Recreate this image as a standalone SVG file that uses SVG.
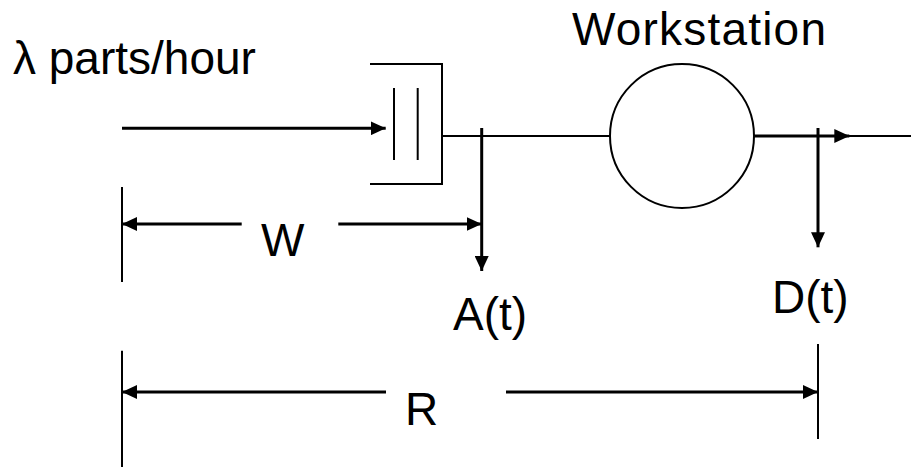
<svg xmlns="http://www.w3.org/2000/svg" width="911" height="470" viewBox="0 0 911 470">
<style>
.t{font-family:"Liberation Sans",Arial,sans-serif;font-size:46px;fill:#000}
.s2{stroke:#000;stroke-width:2;fill:none}
.s3{stroke:#000;stroke-width:3;fill:none}
</style>
<defs>
<marker id="ah" markerWidth="15" markerHeight="14" refX="15" refY="7" orient="auto-start-reverse" markerUnits="userSpaceOnUse">
<path d="M0,0 L15,7 L0,14 z" fill="#000"/>
</marker>
</defs>
<rect width="911" height="470" fill="#fff"/>
<g id="source-label">
<text class="t" x="13" y="74">λ parts/hour</text>
</g>
<g id="queue">
<path class="s2" d="M370,64 H442 V184 H370" stroke-width="2.5"/>
<line class="s2" x1="394" y1="88" x2="394" y2="160"/>
<line class="s2" x1="417.7" y1="88" x2="417.7" y2="160"/>
</g>
<g id="workstation">
<circle class="s2" cx="682" cy="136" r="72"/>
<text class="t" x="572" y="45" textLength="254" lengthAdjust="spacing">Workstation</text>
</g>
<g id="connectors">
<line class="s3" x1="122" y1="128.3" x2="385.7" y2="128.3" marker-end="url(#ah)"/>
<line class="s2" x1="442" y1="136" x2="610" y2="136"/>
<line class="s3" x1="754" y1="136" x2="849.3" y2="136" marker-end="url(#ah)"/>
<line class="s2" x1="849" y1="136" x2="911" y2="136"/>
<line class="s3" x1="481.7" y1="128" x2="481.7" y2="271" marker-end="url(#ah)"/>
<line class="s3" x1="818" y1="128" x2="818" y2="247.3" marker-end="url(#ah)"/>
</g>
<g id="dimension-W">
<line class="s2" x1="122" y1="187" x2="122" y2="282"/>
<line class="s3" x1="241.7" y1="224" x2="122" y2="224" marker-end="url(#ah)"/>
<line class="s3" x1="338.3" y1="224" x2="481.7" y2="224" marker-end="url(#ah)"/>
<text class="t" x="261" y="256">W</text>
</g>
<g id="label-A">
<text class="t" x="453" y="330">A(t)</text>
</g>
<g id="label-D">
<text class="t" x="772" y="313">D(t)</text>
</g>
<g id="dimension-R">
<line class="s2" x1="122" y1="350.7" x2="122" y2="467"/>
<line class="s2" x1="818" y1="344" x2="818" y2="439"/>
<line class="s3" x1="386" y1="392" x2="122" y2="392" marker-end="url(#ah)"/>
<line class="s3" x1="506" y1="392" x2="818" y2="392" marker-end="url(#ah)"/>
<text class="t" x="405" y="425">R</text>
</g>
</svg>
